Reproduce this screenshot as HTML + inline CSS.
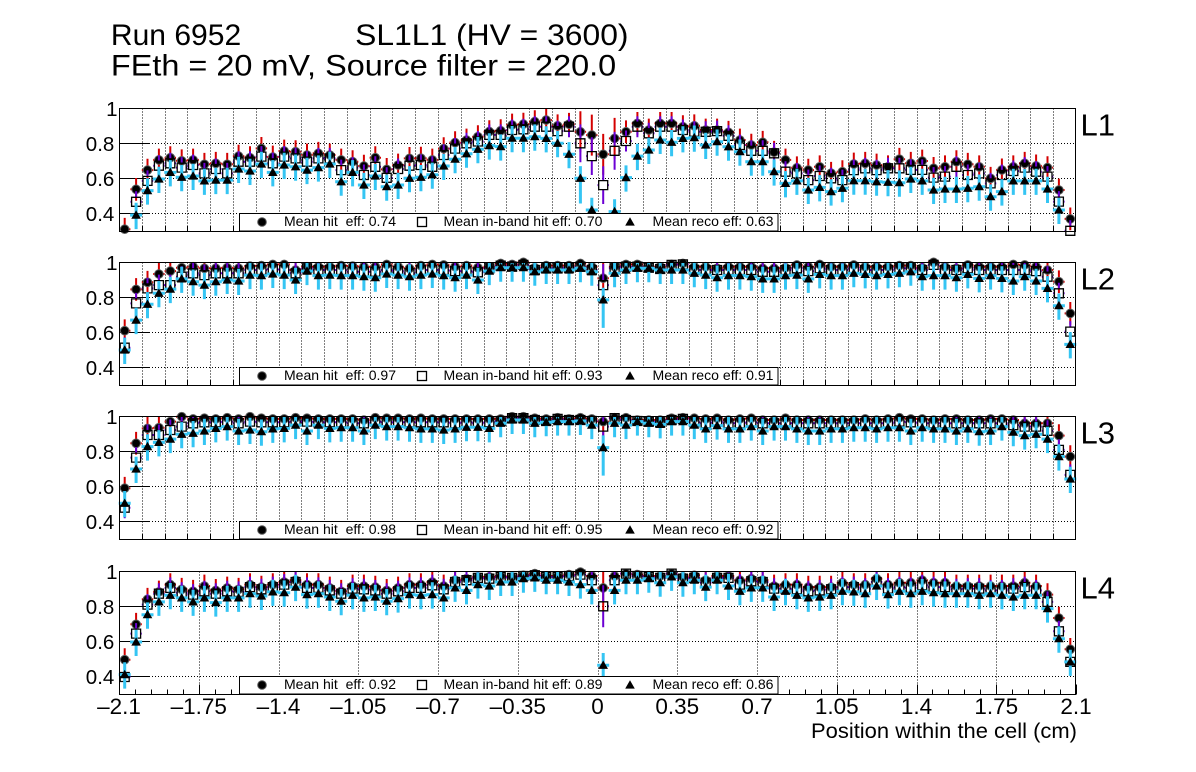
<!DOCTYPE html>
<html>
<head>
<meta charset="utf-8">
<style>
html,body{margin:0;padding:0;background:#fff;overflow:hidden;}
svg{display:block;}
text{white-space:pre;}
</style>
</head>
<body>
<svg id="s" xmlns="http://www.w3.org/2000/svg" width="1196" height="772" viewBox="0 0 1196 772" font-family="'Liberation Sans', Arial, Helvetica, sans-serif">
<rect x="0" y="0" width="1196" height="772" fill="#fff"/>
<g id="grid"></g>
<g id="data"></g>

<!-- frames -->
<g fill="none" stroke="#000" stroke-width="1" shape-rendering="crispEdges">
<rect x="119.5" y="108.5" width="956" height="123"/>
<rect x="119.5" y="262.5" width="956" height="123"/>
<rect x="119.5" y="416.5" width="956" height="123"/>
<rect x="119.5" y="571.5" width="956" height="123"/>
</g>

<!-- legends -->
<g id="legends">
<g>
<rect x="239.5" y="213.5" width="538.5" height="17.5" fill="#fff" stroke="#000" stroke-width="1" shape-rendering="crispEdges"/>
<circle cx="262" cy="222" r="4.3" fill="#000" stroke="#555" stroke-width="1"/>
<rect x="417.5" y="217.5" width="9" height="9" fill="none" stroke="#000" stroke-width="1.3"/>
<path d="M630 217.2L634.8 225.6L625.2 225.6Z" fill="#000"/>
<text x="284" y="226.2" font-size="13.7" textLength="112" lengthAdjust="spacingAndGlyphs">Mean hit  eff: 0.74</text>
<text x="443.5" y="226.2" font-size="13.7" textLength="159" lengthAdjust="spacingAndGlyphs">Mean in-band hit eff: 0.70</text>
<text x="652.5" y="226.2" font-size="13.7" textLength="121" lengthAdjust="spacingAndGlyphs">Mean reco eff: 0.63</text>
</g>
<g>
<rect x="239.5" y="367.5" width="538.5" height="17.5" fill="#fff" stroke="#000" stroke-width="1" shape-rendering="crispEdges"/>
<circle cx="262" cy="376" r="4.3" fill="#000" stroke="#555" stroke-width="1"/>
<rect x="417.5" y="371.5" width="9" height="9" fill="none" stroke="#000" stroke-width="1.3"/>
<path d="M630 371.2L634.8 379.6L625.2 379.6Z" fill="#000"/>
<text x="284" y="380.2" font-size="13.7" textLength="112" lengthAdjust="spacingAndGlyphs">Mean hit  eff: 0.97</text>
<text x="443.5" y="380.2" font-size="13.7" textLength="159" lengthAdjust="spacingAndGlyphs">Mean in-band hit eff: 0.93</text>
<text x="652.5" y="380.2" font-size="13.7" textLength="121" lengthAdjust="spacingAndGlyphs">Mean reco eff: 0.91</text>
</g>
<g>
<rect x="239.5" y="521.5" width="538.5" height="17.5" fill="#fff" stroke="#000" stroke-width="1" shape-rendering="crispEdges"/>
<circle cx="262" cy="530" r="4.3" fill="#000" stroke="#555" stroke-width="1"/>
<rect x="417.5" y="525.5" width="9" height="9" fill="none" stroke="#000" stroke-width="1.3"/>
<path d="M630 525.2L634.8 533.6L625.2 533.6Z" fill="#000"/>
<text x="284" y="534.2" font-size="13.7" textLength="112" lengthAdjust="spacingAndGlyphs">Mean hit  eff: 0.98</text>
<text x="443.5" y="534.2" font-size="13.7" textLength="159" lengthAdjust="spacingAndGlyphs">Mean in-band hit eff: 0.95</text>
<text x="652.5" y="534.2" font-size="13.7" textLength="121" lengthAdjust="spacingAndGlyphs">Mean reco eff: 0.92</text>
</g>
<g>
<rect x="239.5" y="676.5" width="538.5" height="17.5" fill="#fff" stroke="#000" stroke-width="1" shape-rendering="crispEdges"/>
<circle cx="262" cy="685" r="4.3" fill="#000" stroke="#555" stroke-width="1"/>
<rect x="417.5" y="680.5" width="9" height="9" fill="none" stroke="#000" stroke-width="1.3"/>
<path d="M630 680.2L634.8 688.6L625.2 688.6Z" fill="#000"/>
<text x="284" y="689.2" font-size="13.7" textLength="112" lengthAdjust="spacingAndGlyphs">Mean hit  eff: 0.92</text>
<text x="443.5" y="689.2" font-size="13.7" textLength="159" lengthAdjust="spacingAndGlyphs">Mean in-band hit eff: 0.89</text>
<text x="652.5" y="689.2" font-size="13.7" textLength="121" lengthAdjust="spacingAndGlyphs">Mean reco eff: 0.86</text>
</g>
</g>

<!-- titles -->
<text x="110.9" y="45" font-size="30" textLength="130.3" lengthAdjust="spacingAndGlyphs">Run 6952</text>
<text x="355.2" y="45" font-size="30" textLength="273.3" lengthAdjust="spacingAndGlyphs">SL1L1 (HV = 3600)</text>
<text x="110.9" y="75.7" font-size="30" textLength="505.3" lengthAdjust="spacingAndGlyphs">FEth = 20 mV, Source filter = 220.0</text>

<!-- panel labels -->
<text x="1080.5" y="135.7" font-size="31">L1</text>
<text x="1080.5" y="289.7" font-size="31">L2</text>
<text x="1080.5" y="443.7" font-size="31">L3</text>
<text x="1080.5" y="598.7" font-size="31">L4</text>

<!-- y tick labels -->
<g font-size="20.5" text-anchor="end">
<text x="117.5" y="116">1</text><text x="114.3" y="151">0.8</text><text x="114.3" y="186">0.6</text><text x="114.3" y="221">0.4</text>
<text x="117.5" y="270">1</text><text x="114.3" y="305">0.8</text><text x="114.3" y="340">0.6</text><text x="114.3" y="375">0.4</text>
<text x="117.5" y="424">1</text><text x="114.3" y="459">0.8</text><text x="114.3" y="494">0.6</text><text x="114.3" y="529">0.4</text>
<text x="117.5" y="579">1</text><text x="114.3" y="614">0.8</text><text x="114.3" y="649">0.6</text><text x="114.3" y="684">0.4</text>
</g>

<!-- x tick labels -->
<g font-size="22.5" text-anchor="middle">
<text x="119" y="714">–2.1</text>
<text x="198.75" y="714">–1.75</text>
<text x="278.5" y="714">–1.4</text>
<text x="358.25" y="714">–1.05</text>
<text x="438" y="714">–0.7</text>
<text x="517.75" y="714">–0.35</text>
<text x="597.5" y="714">0</text>
<text x="677.25" y="714">0.35</text>
<text x="757" y="714">0.7</text>
<text x="836.75" y="714">1.05</text>
<text x="916.5" y="714">1.4</text>
<text x="996.25" y="714">1.75</text>
<text x="1076" y="714">2.1</text>
</g>
<text x="811" y="738" font-size="21.5" textLength="266" lengthAdjust="spacingAndGlyphs">Position within the cell (cm)</text>
</svg>

<script>
(function(){
var L1c=[.309,.537,.647,.705,.718,.70,.705,.68,.686,.68,
.727,.718,.771,.722,.756,.752,.733,.743,.733,.705,
.695,.67,.718,.651,.676,.714,.715,.705,.77,.804,
.819,.838,.867,.872,.905,.91,.924,.933,.90,.909,
.866,.847,.737,.828,.866,.914,.876,.914,.914,.895,
.90,.876,.876,.863,.819,.79,.806,.749,.705,.66,
.647,.666,.629,.638,.682,.686,.676,.666,.709,.686,
.699,.657,.666,.695,.68,.666,.60,.648,.666,.686,
.671,.661,.533,.368];
var L1s=[0,.466,.585,.672,.686,.661,.676,.628,.653,.628,
.695,.695,.724,.686,.724,.714,.695,.714,.714,.647,
.661,.619,.666,.603,.653,.672,.676,.666,.733,.77,
.80,.81,.848,.848,.876,.88,.895,.895,.87,.895,
.80,.727,.561,.757,.813,.895,.857,.895,.895,.876,
.866,.866,.87,.843,.79,.757,.757,.743,.638,.628,
.59,.613,.60,.59,.647,.657,.647,.657,.657,.648,
.648,.604,.61,.666,.619,.628,.571,.619,.642,.661,
.638,.61,.467,.30];
var L1t=[0,.39,.53,.596,.634,.606,.613,.585,.59,.59,
.653,.642,.682,.634,.676,.666,.647,.661,.682,.58,
.634,.562,.613,.552,.562,.60,.606,.62,.67,.709,
.74,.766,.787,.781,.829,.829,.838,.828,.80,.737,
.60,.419,0,.41,.604,.727,.762,.819,.806,.828,
.832,.79,.809,.78,.752,.695,.695,.638,.571,.585,
.533,.548,.524,.543,.586,.586,.58,.577,.575,.596,
.585,.533,.539,.539,.543,.552,.495,.524,.585,.585,
.585,.539,.419,0];
var L2c=[.609,.845,.886,.933,.95,.969,.975,.966,.966,.969,
.966,.979,.981,.988,.988,.956,.975,.975,.975,.981,
.979,.975,.975,.988,.975,.966,.981,.988,.985,.975,
.981,.969,.975,.994,.988,1,.969,.981,.981,.981,
.994,.975,.909,.975,.988,.988,.975,.975,.988,.994,
.975,.975,.966,.975,.975,.975,.966,.966,.969,.985,
.975,.988,.975,.975,.985,.975,.975,.975,.981,.981,
.969,1,.975,.966,.985,.975,.975,.975,.988,.985,
.975,.956,.889,.708];
var L2s=[.512,.765,.851,.87,.87,.918,.937,.927,.937,.937,
.937,.956,.956,.962,.956,.937,.966,.956,.956,.956,
.946,.946,.946,.956,.95,.937,.956,.956,.956,.95,
.95,.943,.966,.981,.975,.985,.956,.966,.966,.969,
.975,.956,.87,.966,.975,.975,.969,.962,.985,.988,
.956,.956,.956,.956,.956,.956,.946,.946,.956,.966,
.95,.966,.956,.956,.966,.956,.956,.956,.966,.966,
.956,.985,.956,.956,.966,.956,.956,.956,.956,.956,
.95,.918,.823,.604];
var L2t=[.499,.67,.76,.823,.847,.905,.889,.87,.889,.899,
.893,.927,.924,.933,.927,.899,.95,.924,.927,.924,
.924,.918,.912,.933,.927,.918,.927,.933,.924,.912,
.927,.899,.95,.969,.969,.969,.946,.956,.956,.956,
.966,.946,.785,.937,.956,.966,.966,.956,.956,.956,
.937,.927,.912,.924,.924,.918,.905,.905,.924,.927,
.905,.931,.924,.924,.937,.931,.924,.931,.937,.946,
.918,.924,.924,.912,.931,.908,.924,.908,.893,.918,
.893,.851,.752,.531];
var L3c=[.589,.846,.931,.935,.97,.998,.985,.989,.985,.992,
.985,.998,.989,.985,.985,.992,.989,.985,.985,.985,
.985,.979,.992,.989,.989,.985,.989,.985,.985,.985,
.985,.985,.985,.985,.998,.998,.989,.985,.992,.985,
.992,.985,.97,.992,.992,.979,.979,.979,.989,.992,
.989,.985,.989,.979,.985,.989,.979,.979,.989,.979,
.979,.979,.979,.979,.979,.985,.979,.985,.992,.985,
.985,.979,.985,.985,.979,.979,.985,.985,.979,.96,
.96,.96,.89,.77];
var L3s=[.478,.764,.893,.893,.922,.941,.96,.966,.966,.97,
.96,.97,.966,.966,.966,.97,.97,.966,.966,.966,
.96,.96,.97,.966,.966,.966,.966,.966,.966,.96,
.966,.96,.966,.973,.989,.989,.979,.973,.985,.979,
.979,.973,.941,.989,.979,.973,.97,.966,.979,.985,
.966,.96,.97,.96,.96,.966,.96,.96,.96,.96,
.96,.96,.96,.96,.96,.96,.96,.96,.97,.966,
.96,.96,.96,.96,.96,.96,.96,.96,.95,.941,
.941,.917,.808,.665];
var L3t=[.503,.699,.827,.851,.87,.897,.903,.916,.931,.941,
.916,.922,.912,.928,.931,.95,.916,.95,.931,.935,
.935,.916,.95,.941,.941,.935,.928,.928,.922,.928,
.937,.937,.931,.96,.979,.979,.96,.966,.97,.97,
.973,.95,.821,.96,.95,.97,.96,.954,.97,.97,
.95,.928,.947,.928,.928,.941,.916,.941,.941,.928,
.916,.916,.928,.928,.935,.935,.928,.935,.935,.916,
.935,.928,.928,.916,.928,.912,.916,.941,.909,.89,
.897,.87,.77,.642];
var L4c=[.495,.697,.84,.882,.924,.897,.886,.916,.891,.905,
.897,.924,.91,.924,.939,.949,.924,.924,.905,.886,
.916,.916,.91,.891,.905,.924,.924,.939,.916,.949,
.958,.968,.968,.973,.968,.977,.987,.973,.973,.981,
.996,.973,.905,.973,.987,.981,.973,.973,.987,.968,
.977,.949,.973,.973,.949,.958,.949,.916,.924,.924,
.91,.91,.91,.935,.924,.924,.958,.924,.935,.935,
.949,.935,.935,.916,.916,.916,.916,.916,.916,.935,
.916,.867,.733,.554];
var L4s=[.396,.644,.81,.872,.905,.878,.867,.886,.872,.886,
.882,.91,.897,.91,.924,.939,.905,.905,.891,.872,
.901,.897,.891,.872,.886,.905,.905,.92,.897,.939,
.949,.962,.958,.968,.962,.973,.977,.968,.968,.973,
.981,.949,.80,.949,.987,.973,.968,.962,.987,.958,
.962,.935,.962,.962,.924,.943,.939,.901,.901,.897,
.886,.891,.897,.91,.91,.901,.939,.901,.91,.905,
.92,.91,.91,.897,.901,.901,.891,.891,.901,.91,
.891,.825,.657,.482];
var L4t=[.41,.596,.752,.825,.863,.848,.825,.848,.821,.848,
.848,.872,.859,.882,.878,.91,.867,.872,.853,.829,
.863,.848,.853,.829,.844,.867,.863,.867,.848,.905,
.891,.924,.916,.939,.939,.958,.962,.949,.949,.939,
.924,.891,.463,.891,.949,.949,.958,.935,.968,.935,
.949,.91,.949,.916,.886,.905,.905,.853,.886,.863,
.848,.853,.863,.886,.882,.872,.916,.867,.886,.872,
.886,.878,.872,.872,.872,.863,.872,.863,.853,.863,
.863,.787,.615,.482];

var D=[[L1c,L1s,L1t],[L2c,L2s,L2t],[L3c,L3s,L3t],[L4c,L4s,L4t]];
var X0=119,X1=1076,W=X1-X0,BW=W/84,H=175;
var tops=[108.3,262.3,416.3,571.3];
function f(n){return Math.round(n*10)/10;}
var grid='',data='';
for(var p=0;p<4;p++){
  var t=tops[p], tb=Math.round(t)+0.5, b=Math.round(t+0.7*H)+0.5;
  var dot='',sol='';
  [0.4,0.6,0.8].forEach(function(v){
    var y=Math.round(t+(1-v)*H)+0.5;
    dot+='M'+X0+' '+y+'H'+X1;
    sol+='M'+X0+' '+y+'h31';
  });
  if(p<3){
    for(var k=1;k<=41;k++){var x=Math.round(X0+k*W/42)+0.5; dot+='M'+x+' '+tb+'V'+b; sol+='M'+x+' '+b+'v-6';}
  } else {
    for(var k=1;k<=11;k++){var x=Math.round(X0+k*W/12)+0.5; dot+='M'+x+' '+tb+'V'+b;}
    for(var j=0;j<=60;j++){var x=Math.round(X0+j*W/60)+0.5; sol+='M'+x+' '+b+'v-'+(j%5==0?10:5);}
  }
  grid+='<path d="'+dot+'" stroke="#000" stroke-width="1" stroke-dasharray="1 2" fill="none" shape-rendering="crispEdges"/>';
  grid+='<path d="'+sol+'" stroke="#000" stroke-width="1" fill="none" shape-rendering="crispEdges"/>';

  var Y=function(v){ if(v>1)v=1; if(v<0.3)v=0.3; return f(t+(1-v)*H); };
  var c=D[p][0], s=D[p][1], tr=D[p][2];
  var red='',cir='',pur='',sq='',blu='',tri='';
  for(var i=0;i<84;i++){
    var x=X0+(i+0.5)*BW, m=1;
    if(p==0 && i>=40 && i<=43) m=1.8;
    if(p>0 && i==42) m=2;
    var xl=f(x-5.7), xr=f(x+5.7), xx=f(x);
    var v=c[i];
    if(v>=0.3){
      var y=f(t+(1-v)*H);
      red+='M'+xx+' '+Y(v+Math.min(0.065*m,1-v))+'V'+Y(v-0.065*m)+'M'+xl+' '+y+'H'+xr;
      cir+='<circle cx="'+xx+'" cy="'+y+'" r="4.3"/>';
    }
    v=s[i];
    if(v>=0.3){
      var y=f(t+(1-v)*H);
      var yu=Y(v+Math.min(0.06*m,1-v)), yd=Y(v-0.06*m);
      if(yu<y-4.5) pur+='M'+xx+' '+yu+'V'+f(y-4.5);
      if(yd>y+4.5) pur+='M'+xx+' '+f(y+4.5)+'V'+yd;
      pur+='M'+xl+' '+y+'H'+f(x-4.5)+'M'+f(x+4.5)+' '+y+'H'+xr;
      sq+='M'+f(x-4.5)+' '+f(y-4.5)+'h9v9h-9z';
    }
    v=tr[i];
    if(v>=0.3){
      var y=f(t+(1-v)*H);
      blu+='M'+xx+' '+Y(v+Math.min(0.07*(m>1?1:1),1-v))+'V'+Y(v-0.08*m)+'M'+f(x-6)+' '+y+'H'+f(x+6);
      tri+='M'+xx+' '+f(y-4.8)+'L'+f(x+4.8)+' '+f(y+3.6)+'L'+f(x-4.8)+' '+f(y+3.6)+'Z';
    }
  }
  data+='<path d="'+red+'" stroke="#d40000" stroke-width="2" fill="none"/>';
  data+='<g fill="#000" stroke="#5a5a5a" stroke-width="1">'+cir+'</g>';
  data+='<path d="'+pur+'" stroke="#6c00d4" stroke-width="2" fill="none"/>';
  data+='<path d="'+sq+'" stroke="#000" stroke-width="1.3" fill="none"/>';
  data+='<path d="'+blu+'" stroke="#35c5f3" stroke-width="3" fill="none"/>';
  data+='<path d="'+tri+'" fill="#000"/>';
}
document.getElementById('grid').innerHTML=grid;
document.getElementById('data').innerHTML=data;
})();
</script>
</body>
</html>
